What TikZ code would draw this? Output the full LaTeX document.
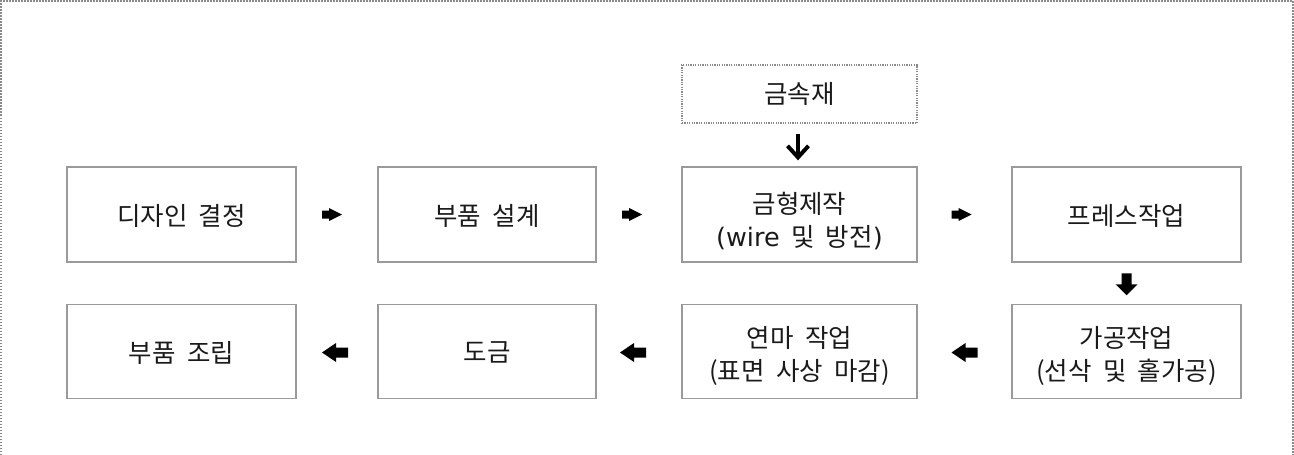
\documentclass[tikz,border=0pt]{standalone}
\usepackage{fontspec}
\setmainfont{Noto Sans CJK KR}[WordSpace=2.0]
\newfontfamily\latf{DejaVu Sans}[WordSpace=1.6]
\usetikzlibrary{calc}
\definecolor{boxline}{HTML}{9A9A9A}
\definecolor{dotline}{HTML}{8A8A8A}
\definecolor{txt}{HTML}{1A1A1A}
\newcommand\rarr[1]{\fill[black,shift={(#1)}] (-10,-4) -- (-3,-4) -- (-3,-6.5) -- (10,0) -- (-3,6.5) -- (-3,4) -- (-10,4) -- cycle;}
\newcommand\larr[1]{\fill[black,shift={(#1)}] (13,-5) -- (1,-5) -- (1,-9.5) -- (-13,0) -- (1,9.5) -- (1,5) -- (13,5) -- cycle;}
\newcommand\darr[1]{\fill[black,shift={(#1)}] (-5,-11) -- (-5,0) -- (-11,0) -- (0,11) -- (11,0) -- (5,0) -- (5,-11) -- cycle;}
\begin{document}
\begin{tikzpicture}[x=1pt,y=-1pt,
  flowbox/.style={draw=boxline,line width=1.3pt,inner sep=0pt,minimum height=95pt},
  boxtext/.style={text=txt,align=center,inner sep=0pt,font=\fontsize{25.5}{38}\selectfont},
  matbox/.style={draw=dotline,line width=1.2pt,dash pattern=on 1.2pt off 1.2pt,text=txt,
    inner sep=0pt,minimum width=235pt,minimum height=58pt,font=\fontsize{25.5}{38}\selectfont}]
\useasboundingbox (0,0) rectangle (1294,455);
\draw[dotline,line width=1.2pt,dash pattern=on 1.5pt off 1.5pt] (1,470) -- (1,1) -- (1293,1) -- (1293,470);
% row 1
\node[flowbox,minimum width=229pt] (b1) at (181.5,214.5) {};
\node[flowbox,minimum width=218pt] (b2) at (487,214.5) {};
\node[flowbox,minimum width=235pt] (b3) at (799.5,214.5) {};
\node[flowbox,minimum width=229pt] (b4) at (1126.5,214.5) {};
% row 2
\node[flowbox,minimum width=229pt,minimum height=94pt] (b5) at (1126.5,351.5) {};
\node[flowbox,minimum width=235pt,minimum height=94pt] (b6) at (799.5,351.5) {};
\node[flowbox,minimum width=218pt,minimum height=94pt] (b7) at (487,351.5) {};
\node[flowbox,minimum width=229pt,minimum height=94pt] (b8) at (181.5,351.5) {};
% texts
\node[boxtext] (t1) at ($(b1)+(0,1)$) {디자인 결정};
\node[boxtext] (t2) at ($(b2)+(0,1)$) {부품 설계};
\node[boxtext] (t3) at ($(b3)+(0,7)$) {금형제작\\[-5pt]{\latf (wire} 및 방전{\latf )}};
\node[boxtext] (t4) at ($(b4)+(0,1)$) {프레스작업};
\node[boxtext] (t5) at ($(b5)+(0,4)$) {가공작업\\[-5pt](선삭 및 홀가공)};
\node[boxtext] (t6) at ($(b6)+(0,4)$) {연마 작업\\[-5pt](표면 사상 마감)};
\node[boxtext] (t7) at ($(b7)+(0,1)$) {도금};
\node[boxtext] (t8) at ($(b8)+(0,1)$) {부품 조립};
% material
\node[matbox] (mat) at (799.5,94) {금속재};
% thin down arrow
\coordinate (ms) at ($(mat.south)+(-1.5,10)$);
\coordinate (me) at ($(b3.north)+(-1.5,-9)$);
\draw[black,line width=4pt] (ms) -- ($(me)+(0,-3)$);
\draw[black,line width=4pt,line join=miter,miter limit=10] ($(me)+(-10.5,-11.5)$) -- (me) -- ($(me)+(10.5,-11.5)$);
% block arrows
\rarr{$($(b1.east)!0.5!(b2.west)$)+(-5,0)$}
\rarr{$($(b2.east)!0.5!(b3.west)$)+(-7,0)$}
\rarr{$($(b3.east)!0.5!(b4.west)$)+(-3,0)$}
\darr{$($(b4.south)!0.5!(b5.north)$)+(0,1)$}
\larr{$($(b5.west)!0.5!(b6.east)$)+(0,1)$}
\larr{$($(b6.west)!0.5!(b7.east)$)+(-6,1)$}
\larr{$($(b7.west)!0.5!(b8.east)$)+(-2,1)$}
\end{tikzpicture}
\end{document}
